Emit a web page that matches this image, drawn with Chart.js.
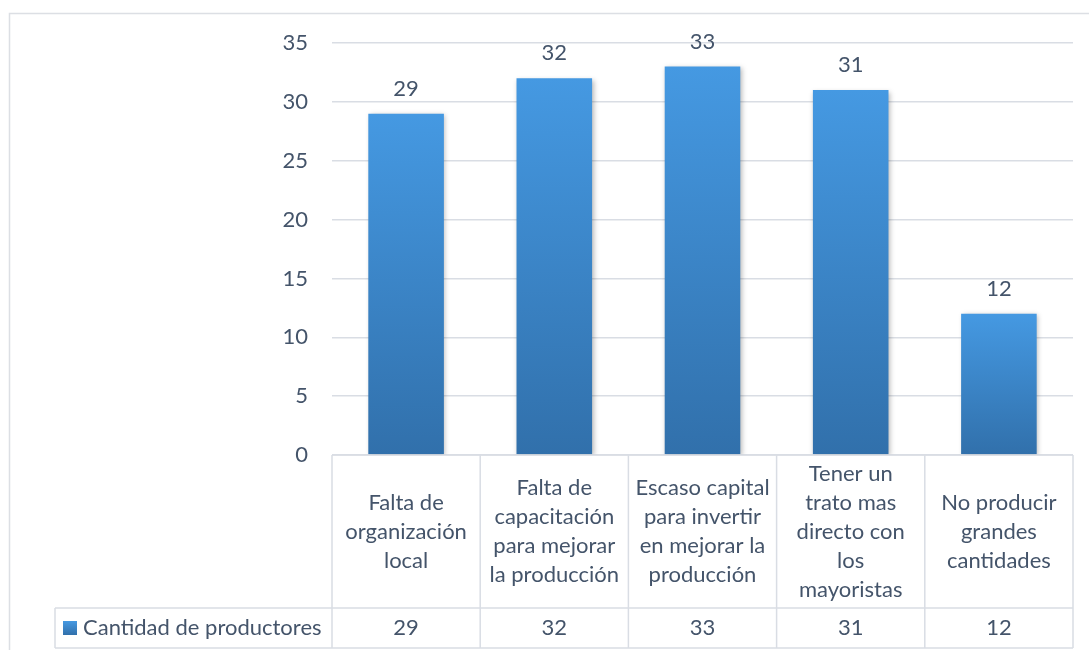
<!DOCTYPE html>
<html>
<head>
<meta charset="utf-8">
<script src="https://cdn.jsdelivr.net/npm/chart.js@4.4.0/dist/chart.umd.min.js"></script>
<style>
html, body { margin: 0; padding: 0; background: #fff; }
canvas { display: block; }
</style>
</head>
<body>
<canvas id="grafico" width="1089" height="650"></canvas>
<script>
// datos del grafico
var categorias = [
    ['Falta de', 'organización', 'local'],
    ['Falta de', 'capacitación', 'para mejorar', 'la producción'],
    ['Escaso capital', 'para invertir', 'en mejorar la', 'producción'],
    ['Tener un', 'trato mas', 'directo con', 'los', 'mayoristas'],
    ['No producir', 'grandes', 'cantidades']
];
var valores = [29, 32, 33, 31, 12];
var nombreSerie = 'Cantidad de productores';
var ejeMin = 0;
var ejeMax = 35;
var ejePaso = 5;

var fuente = 'Lato, "Open Sans", sans-serif';
var tamFuente = 22;
var colorTexto = '#44546a';
var colorLinea = '#d9dde4';

function degradado(ctx, arriba, abajo) {
    var g = ctx.createLinearGradient(0, arriba, 0, abajo);
    g.addColorStop(0, '#4599e2');
    g.addColorStop(1, '#3170ab');
    return g;
}

// sombra de las barras + etiquetas de valor
var pluginBarras = {
    id: 'barras',
    beforeDatasetsDraw: function (chart) {
        var ctx = chart.ctx;
        ctx.save();
        ctx.shadowColor = 'rgba(0,0,0,0.28)';
        ctx.shadowBlur = 5;
        ctx.shadowOffsetX = 1.5;
        ctx.shadowOffsetY = 1.5;
    },
    afterDatasetsDraw: function (chart) {
        var ctx = chart.ctx;
        ctx.restore();
        ctx.save();
        ctx.font = tamFuente + 'px ' + fuente;
        ctx.fillStyle = colorTexto;
        ctx.textAlign = 'center';
        ctx.textBaseline = 'middle';
        chart.getDatasetMeta(0).data.forEach(function (barra, i) {
            ctx.fillText(valores[i], barra.x, barra.y - 25);
        });
        ctx.restore();
    }
};

// marco exterior y tabla de datos
var pluginTabla = {
    id: 'tabla',
    beforeDraw: function (chart) {
        var ctx = chart.ctx;
        ctx.save();
        ctx.strokeStyle = '#dcdfe4';
        ctx.lineWidth = 1.5;
        ctx.strokeRect(9.5, 13.5, 1200, 1000);
        ctx.restore();
    },
    afterDraw: function (chart) {
        var ctx = chart.ctx;
        var area = chart.chartArea;
        var xs = chart.scales.x;
        var n = categorias.length;
        var anchoCol = area.width / n;
        var arriba = area.bottom;
        var finCabecera = arriba + 153;
        var finFila = finCabecera + 40;
        var izqLeyenda = 55;
        var altoLinea = 29;

        ctx.save();
        ctx.strokeStyle = colorLinea;
        ctx.lineWidth = 1.5;
        ctx.beginPath();
        ctx.moveTo(area.left, arriba);
        ctx.lineTo(area.right, arriba);
        ctx.moveTo(izqLeyenda, finCabecera);
        ctx.lineTo(area.right, finCabecera);
        ctx.moveTo(izqLeyenda, finFila);
        ctx.lineTo(area.right, finFila);
        ctx.moveTo(izqLeyenda, finCabecera);
        ctx.lineTo(izqLeyenda, finFila);
        for (var i = 0; i <= n; i++) {
            var x = area.left + i * anchoCol;
            ctx.moveTo(x, arriba);
            ctx.lineTo(x, finFila);
        }
        ctx.stroke();

        ctx.font = tamFuente + 'px ' + fuente;
        ctx.fillStyle = colorTexto;
        ctx.textAlign = 'center';
        ctx.textBaseline = 'middle';
        var centroCab = (arriba + finCabecera) / 2;
        var centroFila = (finCabecera + finFila) / 2;
        categorias.forEach(function (lineas, i) {
            var cx = xs.getPixelForValue(i);
            var y0 = centroCab - (lineas.length - 1) * altoLinea / 2;
            lineas.forEach(function (t, j) {
                ctx.fillText(t, cx, y0 + j * altoLinea);
            });
            ctx.fillText(valores[i], cx, centroFila);
        });

        // leyenda
        ctx.fillStyle = degradado(ctx, centroFila - 7, centroFila + 7);
        ctx.fillRect(63, centroFila - 7, 14, 14);
        ctx.fillStyle = colorTexto;
        ctx.textAlign = 'left';
        ctx.fillText(nombreSerie, 83, centroFila);
        ctx.restore();
    }
};

new Chart(document.getElementById('grafico'), {
    type: 'bar',
    data: {
        labels: categorias,
        datasets: [{
            label: nombreSerie,
            data: valores,
            backgroundColor: function (c) {
                var chart = c.chart;
                var y = chart.scales.y;
                if (!chart.chartArea || !y || c.raw === undefined) return '#3d86c6';
                return degradado(chart.ctx, y.getPixelForValue(c.raw), y.getPixelForValue(0));
            },
            borderWidth: 0,
            categoryPercentage: 1,
            barPercentage: 0.51
        }]
    },
    options: {
        responsive: false,
        animation: false,
        devicePixelRatio: 1,
        layout: { padding: { left: 0, right: 16, top: 43, bottom: 195 } },
        plugins: {
            legend: { display: false },
            tooltip: { enabled: false }
        },
        scales: {
            x: { display: false, offset: true },
            y: {
                min: ejeMin,
                max: ejeMax,
                ticks: {
                    stepSize: ejePaso,
                    padding: 24,
                    color: colorTexto,
                    font: { family: fuente, size: tamFuente }
                },
                grid: { color: colorLinea, lineWidth: 1.5, drawTicks: false },
                border: { display: false },
                afterFit: function (s) { s.width = 332; }
            }
        }
    },
    plugins: [pluginBarras, pluginTabla]
});
</script>
</body>
</html>
